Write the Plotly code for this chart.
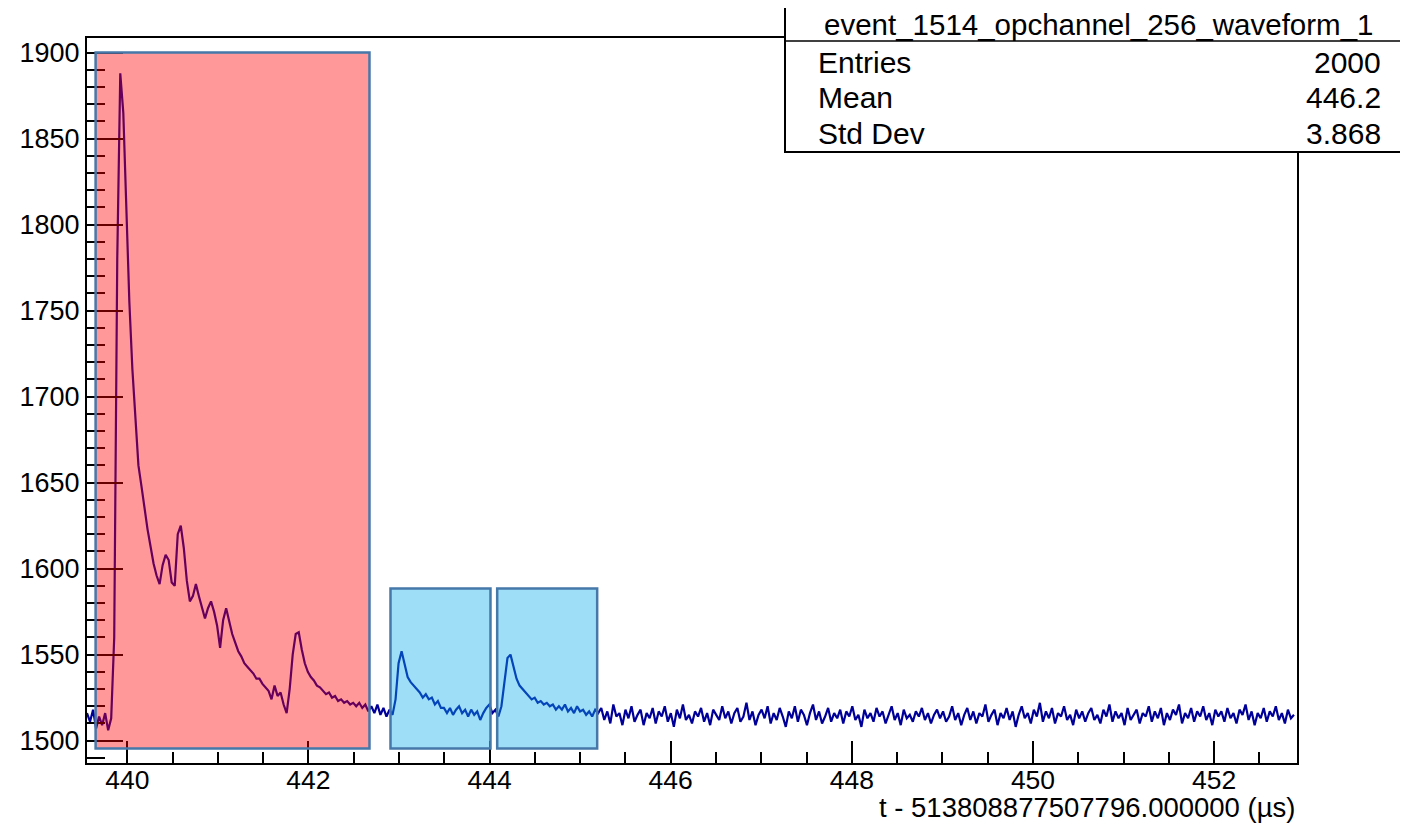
import plotly.graph_objects as go

# ---------------- data ----------------
T_START = 439.555      # µs, first sample time
T_STEP = 0.0334        # µs between plotted samples

ADC_PULSE = [
    1516, 1511, 1518, 1507, 1514, 1509, 1516, 1506, 1513, 1560,
    1780, 1888, 1865, 1812, 1755, 1716, 1688, 1660, 1648, 1635,
    1623, 1613, 1603, 1596, 1591, 1602, 1608, 1605, 1592, 1590,
    1620, 1625, 1612, 1593, 1581, 1584, 1591, 1584, 1578, 1571,
    1577, 1581, 1575, 1567, 1554, 1570, 1577, 1570, 1562, 1557,
    1552, 1549, 1545, 1543, 1541, 1539, 1536, 1536, 1533, 1531,
    1529, 1524, 1532, 1526, 1528, 1521, 1516, 1530, 1550, 1562,
    1563, 1553, 1545, 1540, 1537, 1535, 1532, 1531, 1529, 1527,
    1528, 1525, 1526, 1523, 1524, 1522, 1523, 1521, 1522, 1520,
    1522, 1519, 1521, 1517,
]
ADC_AFTERPULSES = [
    1520, 1516, 1521, 1515, 1519, 1514, 1518, 1515,
    1524, 1545, 1552, 1545, 1537, 1534, 1532, 1530, 1528, 1525,
    1527, 1524, 1525, 1521, 1523, 1519, 1519, 1516, 1519, 1515,
    1518, 1520, 1516, 1518, 1514, 1518, 1515, 1517, 1512, 1516,
    1519, 1521, 1516, 1518, 1514, 1520, 1533, 1548, 1550, 1543,
    1536, 1532, 1530, 1528, 1526, 1524, 1525, 1522, 1523, 1521,
    1522, 1520, 1521, 1518, 1520, 1518, 1521, 1517, 1519, 1516,
    1520, 1517, 1518, 1515, 1517, 1514, 1518, 1516,
]
ADC_BASELINE = [
    1519, 1512, 1517, 1510, 1521, 1514, 1516, 1509, 1518, 1513, 1520, 1511, 1515, 1518, 1509, 1516, 1513, 1519, 1510, 1517,
    1514, 1520, 1511, 1516, 1508, 1518, 1513, 1521, 1512, 1515, 1510, 1517, 1514, 1519, 1511, 1516, 1509, 1518, 1515, 1512,
    1520, 1513, 1517, 1510, 1516, 1519, 1511, 1514, 1522, 1512, 1517, 1509, 1515, 1518, 1513, 1520, 1510, 1516, 1512, 1519,
    1514, 1508, 1517, 1513, 1520, 1511, 1518, 1515, 1509, 1516, 1521, 1512, 1517, 1510, 1514, 1519, 1511, 1516, 1513, 1518,
    1510, 1517, 1514, 1520, 1512, 1515, 1508, 1518, 1513, 1516, 1511, 1519, 1514, 1517, 1510, 1515, 1520, 1512, 1516, 1509,
    1518, 1513, 1515, 1511, 1517, 1514, 1519, 1512, 1516, 1510, 1515, 1518, 1513, 1517, 1511, 1514, 1520, 1512, 1516, 1509,
    1515, 1519, 1512, 1517, 1510, 1516, 1514, 1521, 1511, 1515, 1518, 1509, 1516, 1513, 1519, 1512, 1517, 1508, 1515, 1520,
    1513, 1516, 1510, 1518, 1514, 1522, 1511, 1517, 1513, 1519, 1510, 1516, 1514, 1520, 1512, 1515, 1509, 1518, 1513, 1517,
    1511, 1516, 1519, 1512, 1515, 1510, 1518, 1514, 1521, 1511, 1517, 1513, 1516, 1509, 1519, 1512, 1515, 1518, 1510, 1516,
    1514, 1520, 1511, 1517, 1513, 1519, 1509, 1516, 1512, 1518, 1515, 1521, 1510, 1516, 1513, 1519, 1511, 1517, 1514, 1520,
    1512, 1516, 1509, 1518, 1514, 1517, 1511, 1519, 1513, 1516, 1510, 1518, 1515, 1521, 1512, 1517, 1509, 1516, 1513, 1519,
    1511, 1517, 1514, 1520, 1512, 1516, 1510, 1518, 1513, 1515,
]

# hit windows (µs / ADC)
WINDOW_START = [439.65, 442.906, 444.084]
WINDOW_END = [442.674, 444.010, 445.188]
WINDOW_LOW = [1495.5, 1495.5, 1495.5]
WINDOW_HIGH = [1900.0, 1588.5, 1588.5]
WINDOW_FILL = ["rgba(255,0,0,0.4)", "rgba(12,172,235,0.4)", "rgba(12,172,235,0.4)"]

HIST_NAME = "event_1514_opchannel_256_waveform_1"
STAT_LABELS = ["Entries", "Mean", "Std Dev"]
STAT_VALUES = ["2000", "446.2", "3.868"]
X_TITLE = "t - 513808877507796.000000 (\u00b5s)"

X_RANGE = [439.555, 452.915]
Y_RANGE = [1487.0, 1908.5]

# ---------------- figure ----------------
adc = ADC_PULSE + ADC_AFTERPULSES + ADC_BASELINE
times = [T_START + T_STEP * i for i in range(len(adc))]

FONT = "Liberation Sans, Arial, Helvetica, sans-serif"

# page has an 8px body margin; figure is placed at page (8, 8)
OFF = 8.0
ML, MT, PW, PH = 79, 30, 1210.0, 725.0
FIG_W, FIG_H = 1400, 819

fig = go.Figure()
fig.add_trace(go.Scatter(
    x=times, y=adc, mode="lines",
    line=dict(color="rgb(0,0,153)", width=2.2),
    showlegend=False, hoverinfo="x+y",
))

for x0, x1, y0, y1, fc in zip(WINDOW_START, WINDOW_END, WINDOW_LOW, WINDOW_HIGH, WINDOW_FILL):
    fig.add_shape(type="rect", xref="x", yref="y", x0=x0, x1=x1, y0=y0, y1=y1,
                  fillcolor=fc, line=dict(color="rgb(70,120,170)", width=2.5),
                  layer="above")

# helpers: convert page pixel positions into paper coordinates
def px_x(p):
    return (p - OFF - ML) / PW
def px_y(p):
    return (MT + PH - (p - OFF)) / PH

fig.add_shape(type="rect", xref="paper", yref="paper",
              x0=px_x(785), x1=px_x(1420), y0=px_y(152), y1=px_y(4),
              fillcolor="white", line=dict(color="black", width=2), layer="above")
fig.add_shape(type="line", xref="paper", yref="paper",
              x0=px_x(785), x1=px_x(1420), y0=px_y(41), y1=px_y(41),
              line=dict(color="black", width=1.5), layer="above")

fig.add_annotation(xref="paper", yref="paper", x=px_x(1098), y=px_y(24),
                   text=HIST_NAME, showarrow=False, xanchor="center", yanchor="middle",
                   font=dict(family=FONT, size=29.5, color="black"))
for k, (lab, val) in enumerate(zip(STAT_LABELS, STAT_VALUES)):
    yy = px_y(62 + 35.5 * k)
    fig.add_annotation(xref="paper", yref="paper", x=px_x(816), y=yy, text=lab,
                       showarrow=False, xanchor="left", yanchor="middle",
                       font=dict(family=FONT, size=30, color="black"))
    fig.add_annotation(xref="paper", yref="paper", x=px_x(1383), y=yy, text=val,
                       showarrow=False, xanchor="right", yanchor="middle",
                       font=dict(family=FONT, size=30, color="black"))

fig.add_annotation(xref="paper", yref="paper", x=1.0, y=px_y(807), text=X_TITLE,
                   showarrow=False, xanchor="right", yanchor="middle",
                   font=dict(family=FONT, size=27.5, color="black"))

fig.update_layout(
    width=FIG_W, height=FIG_H,
    margin=dict(l=ML, r=FIG_W - ML - int(PW), t=MT, b=FIG_H - MT - int(PH)),
    paper_bgcolor="white", plot_bgcolor="white",
    font=dict(family=FONT, size=27, color="black"),
    showlegend=False,
)
fig.update_xaxes(
    range=X_RANGE, tick0=440, dtick=2, ticks="inside", ticklen=22, tickwidth=1.5,
    tickcolor="black", showgrid=False, zeroline=False,
    showline=True, linewidth=2, linecolor="black", mirror=True,
    tickfont=dict(family=FONT, size=26.5), ticklabelstandoff=-8,
    minor=dict(ticks="inside", dtick=0.5, tick0=440, ticklen=11, tickwidth=1.5, tickcolor="black", showgrid=False),
)
fig.update_yaxes(
    range=Y_RANGE, tick0=1500, dtick=50, ticks="inside", ticklen=36, tickwidth=1.5,
    tickcolor="black", showgrid=False, zeroline=False,
    showline=True, linewidth=2, linecolor="black", mirror=True,
    tickfont=dict(family=FONT, size=27),
    minor=dict(ticks="inside", dtick=10, tick0=1500, ticklen=18, tickwidth=1.5, tickcolor="black", showgrid=False),
)

fig.write_html("out.html")
